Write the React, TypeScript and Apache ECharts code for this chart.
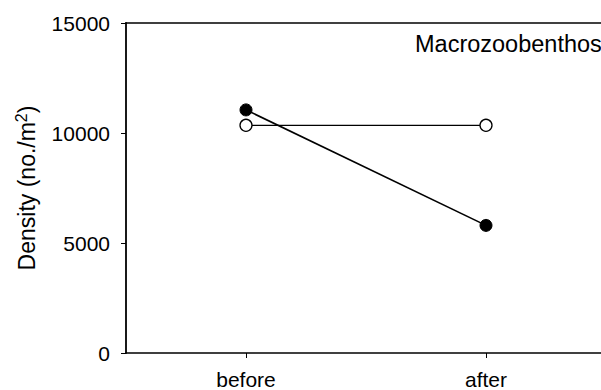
import React, { useEffect, useRef } from "react";
import * as echarts from "echarts";

// Sampling periods on the x axis
const periods = ["before", "after"];
// Macrozoobenthos density (no./m²) for the two treatments
const filledSeries = [11050, 5800];
const openSeries = [10350, 10350];
// Density ticks
const yTicks = [0, 5000, 10000, 15000];

const FONT = "'Liberation Sans', Arial, sans-serif";

export default function App() {
  const ref = useRef<HTMLDivElement>(null);

  useEffect(() => {
    if (!ref.current) return;
    const chart = echarts.init(ref.current, undefined, { renderer: "svg" });
    chart.setOption({
      animation: false,
      backgroundColor: "#ffffff",
      grid: {
        left: 126,
        top: 23,
        width: 480,
        height: 330,
        show: false,
        containLabel: false,
        outerBoundsMode: "none",
      },
      title: {
        text: "Macrozoobenthos",
        left: 410,
        top: 27,
        textStyle: {
          fontFamily: FONT,
          fontSize: 23.5,
          fontWeight: "normal",
          color: "#000",
        },
      },
      xAxis: [
        {
          type: "category",
          data: periods,
          boundaryGap: true,
          axisLine: { show: true, lineStyle: { color: "#000", width: 1.5 } },
          axisTick: {
            show: true,
            alignWithLabel: true,
            length: 5,
            lineStyle: { color: "#000", width: 1 },
          },
          axisLabel: {
            margin: 16,
            fontFamily: FONT,
            fontSize: 21,
            color: "#000",
          },
          splitLine: { show: false },
        },
        {
          // frame line along the top of the plot
          type: "category",
          data: periods,
          position: "top",
          axisLine: { show: true, lineStyle: { color: "#000", width: 1.5 } },
          axisTick: { show: false },
          axisLabel: { show: false },
          splitLine: { show: false },
        },
      ],
      yAxis: {
        type: "value",
        min: yTicks[0],
        max: yTicks[yTicks.length - 1],
        interval: yTicks[1] - yTicks[0],
        name: "{a|Density (no./m}{s|2}{a|)}",
        nameLocation: "middle",
        nameGap: 86,
        nameRotate: 90,
        nameTextStyle: {
          rich: {
            a: { fontFamily: FONT, fontSize: 23, color: "#000" },
            s: {
              fontFamily: FONT,
              fontSize: 16,
              color: "#000",
              padding: [0, 0, 11, 0],
            },
          },
        },
        axisLine: { show: true, lineStyle: { color: "#000", width: 1.8 } },
        axisTick: {
          show: true,
          length: 5,
          lineStyle: { color: "#000", width: 1 },
        },
        axisLabel: {
          margin: 16,
          fontFamily: FONT,
          fontSize: 21,
          color: "#000",
          formatter: (v: number) => String(v),
        },
        splitLine: { show: false },
      },
      series: [
        {
          type: "line",
          data: openSeries,
          symbol: "circle",
          symbolSize: 12,
          lineStyle: { color: "#000", width: 1.3 },
          itemStyle: { color: "#fff", borderColor: "#000", borderWidth: 1.3 },
          z: 2,
        },
        {
          type: "line",
          data: filledSeries,
          symbol: "circle",
          symbolSize: 12,
          lineStyle: { color: "#000", width: 1.6 },
          itemStyle: { color: "#000", borderColor: "#000", borderWidth: 1 },
          z: 3,
        },
      ],
    });
    return () => chart.dispose();
  }, []);

  // The plot frame runs past the right edge, so the chart is wider than the
  // visible window and the overflow is cut off.
  return (
    <div
      style={{
        position: "fixed",
        left: 0,
        top: 0,
        width: 601,
        height: 390,
        overflow: "hidden",
        background: "#fff",
      }}
    >
      <div ref={ref} style={{ width: 630, height: 390 }} />
    </div>
  );
}
